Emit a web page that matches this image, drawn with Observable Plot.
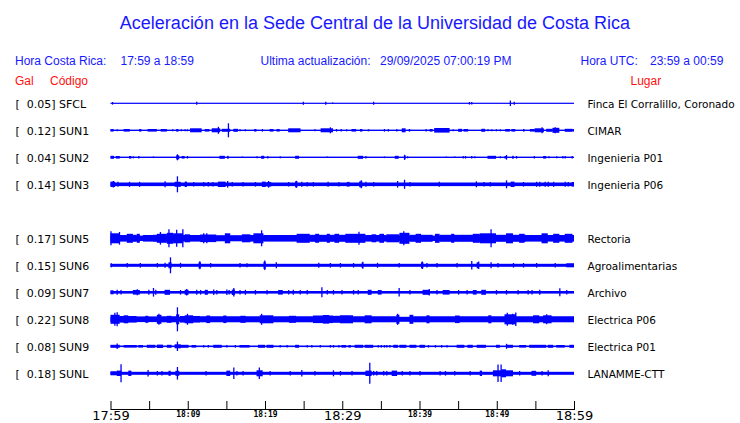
<!DOCTYPE html>
<html>
<head>
<meta charset="utf-8">
<script src="https://cdn.jsdelivr.net/npm/d3@7"></script>
<script src="https://cdn.jsdelivr.net/npm/@observablehq/plot@0.6"></script>
<style>
  body { margin: 0; background: #fff; }
  #chart svg { display: block; }
</style>
</head>
<body>
<div id="chart"></div>
<script>
// ---------------- DATA ----------------
const title = "Aceleración en la Sede Central de la Universidad de Costa Rica";
const horaCR = ["Hora Costa Rica:", "17:59 a 18:59"];
const actualizacion = ["Ultima actualización:", "29/09/2025 07:00:19 PM"];
const horaUTC = ["Hora UTC:", "23:59 a 00:59"];
const colHeads = ["Gal", "Código", "Lugar"];

const codes  = ["SFCL", "SUN1", "SUN2", "SUN3", "SUN4", "SUN5", "SUN6", "SUN7", "SUN8", "SUN9", "SUNL"];
const gal    = [0.05, 0.12, 0.04, 0.14, null, 0.17, 0.15, 0.09, 0.22, 0.08, 0.18];
const places = ["Finca El Corralillo, Coronado", "CIMAR", "Ingenieria P01", "Ingenieria P06", null,
                "Rectoria", "Agroalimentarias", "Archivo", "Electrica P06", "Electrica P01", "LANAMME-CTT"];
// background (noise) half-amplitude of each trace, trace units
const noise  = [0.6, 0.7, 0.7, 1.8, null, 2.7, 1.5, 1.3, 2.5, 0.8, 1.5];

// minutes after 17:59 ; bursts [start, end, halfAmp], spikes [time, halfAmp]
const events = {
  SFCL: [[0.2,1.3],[11.1,1.5],[24.9,1.5],[27.8,1.5],[28.7,0.8],[34.0,1.5],[46.4,1.3],[46.7,1.3],[51.7,2.8],[52.2,1.5]],
  SUN1: [[0,0.4,1.3],[0.8,1],[1.7,2.5,1.3],[3.7,4.0,1.3],[4.8,6.0,1.3],[6.5,7.3,1.3],[8.0,1],[8.5,8.8,1.3],[9.1,1],[9.6,1],[9.9,1],[10.3,11.8,2],[12.2,12.8,1.3],[13.1,14.2,2],[13.9,3.5],[14.4,15.5,1.5],[15.2,7],[15.9,16.5,1.5],[16.7,1],[17.4,1],[18.6,18.9,1.3],[19.6,1.3],[20.6,21.1,1.3],[21.5,21.9,1.3],[23.0,24.6,2],[26.4,1],[27.2,28.8,2],[28.4,3],[29.2,1.3],[29.8,1.3],[30.5,1],[31.2,31.8,1.3],[32.3,32.6,1.3],[33.3,33.5,1],[35.4,1.3],[35.9,1.3],[37.0,1.2],[37.7,38.2,2],[38.6,38.8,1.3],[40.8,1.3],[41.3,41.7,1.3],[41.9,43.9,2.3],[44.3,1],[45.0,45.5,1.5],[45.7,46.3,1.3],[48.0,48.5,1.5],[48.8,1],[49.3,1],[49.9,1],[50.4,1],[51.1,51.7,1.3],[51.9,52.4,1.3],[53.4,53.6,1.3],[54.3,54.9,1.3],[54.9,56.1,2],[55.8,3],[56.4,57.2,1.5],[57.2,58.1,2.5],[57.5,3],[58.8,59.8,1.5],[59.8,60,1.3]],
  SUN2: [[0,0.45,1.5],[0.7,1.2,1.3],[2.4,2.7,1.3],[2.9,1],[3.6,1.3],[5.5,0.8],[8.5,8.9,2],[8.6,3],[9.2,9.6,1.3],[9.9,1.3],[14.1,14.8,1.5],[15.1,15.3,1.5],[17.0,0.8],[18.9,1],[19.5,19.9,1.5],[20.3,1.3],[21.9,1],[23.9,24.4,1.5],[28.0,0.8],[32.0,32.7,1.5],[33.0,1.3],[35.4,0.8],[36.8,37.3,1.5],[38.0,38.2,2],[38.0,2.5],[38.4,1],[43.4,0.8],[44.5,0.8],[45.6,1.3],[45.9,1.3],[46.7,1.3],[47.1,1],[48.8,49.9,1.5],[50.4,1],[51.0,51.3,1.3],[51.2,2.3],[52.0,52.2,1.5],[52.5,1.3],[54.8,1.3],[56.0,56.4,1.3],[56.7,1],[57.7,1],[58.5,1.3],[58.8,1.3],[59.7,1.3]],
  SUN3: [[0,0.6,2.7],[0.3,3.3],[0.9,2.5],[2.4,2.5],[3.7,2.5],[7.0,3],[8.3,9.1,2.5],[8.6,8],[9.6,9.9,2.7],[10.7,2.3],[12.0,2.3],[12.6,2.3],[13.2,2.3],[13.9,14.9,2.7],[15.1,3.3],[15.7,2.3],[17.1,2.3],[18.7,2.3],[19.6,20.1,2.7],[20.2,20.8,2.3],[20.4,3.3],[23.0,2.3],[23.9,24.2,3],[24.0,3.5],[24.7,2.5],[25.4,2.3],[26.2,2.3],[28.1,2.5],[29.5,2.3],[30.6,2.3],[30.8,2.5],[32.2,32.6,3],[32.4,4],[33.0,2.5],[34.0,2.3],[37.1,3.3],[38.0,4.5],[38.7,2.3],[42.5,2.5],[47.3,3],[48.3,2.3],[49.1,2.3],[51.2,4],[51.8,52.3,2.7],[53.4,2.3],[55.1,2.5],[55.5,2.5],[56.2,2.5],[56.6,2.5],[57.3,2.5],[58.8,2.5],[59.2,2.3],[59.7,60,2.3]],
  SUN5: [[0,1.2,5],[0,7],[1.1,6.3],[1.2,2.1,3.3],[2.1,2.9,4.5],[2.9,3.4,3.5],[3.4,3.8,4.5],[4.2,5.5,3.3],[5.5,6.4,3.5],[6.0,7.3,4.5],[6.4,6.3],[7.3,8.1,5.5],[7.5,9],[8.5,8.5],[9.3,9],[8.1,9.4,5],[9.4,11.6,3.3],[9.6,10.3,4],[11.6,13.7,3.8],[12.0,5],[12.4,5],[13.7,14.8,3],[14.8,15.5,5],[15.5,17.0,3],[17.0,18.1,4],[17.8,19.3,3.3],[18.5,19.8,5],[19.5,8],[19.8,24.5,3.3],[24.1,25.8,4.5],[25.8,31,3.5],[26.5,27.0,4.5],[28.0,28.4,4.5],[29.0,29.6,4.5],[30.4,31.0,4.5],[31.0,33.0,4.5],[32.1,6.5],[33.0,35.7,3.3],[33.8,34.4,4],[34.8,35.4,4.5],[35.7,37.4,4],[37.4,38.7,5.5],[37.9,7],[38.7,41.7,3.5],[39.5,40.2,4.5],[42.0,42.6,4.5],[42.6,47.8,3.5],[44.1,44.5,4.5],[46.9,47.8,4.5],[47.8,49.9,5],[49.2,9],[49.9,53.8,3.5],[51.2,52.1,5],[52.9,53.6,4.5],[53.8,60,3.3],[55.8,56.6,5],[57.3,58.1,4.5],[58.8,59.8,4.5]],
  SUN6: [[0,0.2,2],[2.1,2.3],[3.8,2.3],[6.0,2.3],[7.0,2.5],[7.5,7.9,3],[7.7,8],[9.0,2.5],[11.4,11.7,3],[11.5,4],[12.9,2.3],[16.7,2.3],[17.6,2],[19.8,20.1,3.5],[19.9,4.7],[21.4,3],[26.9,2.5],[28.4,2.3],[29.7,2.3],[31.4,2.3],[32.5,32.7,2.7],[32.6,3.5],[34.5,2.5],[37.3,2.3],[40.2,40.5,3],[40.3,3.7],[40.9,2.3],[42.2,2.3],[44.8,2.3],[46.7,4.3],[47.4,47.7,3],[47.6,3.7],[49.2,3],[50.1,2.3],[52.1,2.3],[53.4,2.3],[55.1,2.3],[57.5,2.3],[59.0,60,2]],
  SUN7: [[0,0.4,2],[0.8,2.5],[1.3,2.3],[2.9,3.8,2.3],[3.4,3],[4.9,2.5],[5.5,4.3],[5.8,2.5],[7.0,7.7,2.5],[9.0,2.3],[9.6,10.1,2.5],[9.8,3.3],[11.1,2.5],[11.6,2.3],[12.2,12.6,2.5],[13.3,2.7],[13.7,2.3],[15.0,2.7],[15.3,2.3],[15.7,16.1,2.7],[15.9,4.3],[16.7,2.3],[17.4,2.5],[18.7,2.3],[20.2,2.3],[21.7,22.3,2.3],[23.0,2.3],[23.6,2.5],[24.5,2.3],[25.4,2.3],[27.3,5],[28.0,2.3],[28.8,2.3],[29.9,2.3],[31.4,2.3],[32.0,2.3],[33.3,33.8,2.5],[34.6,35.1,2.3],[37.3,4.3],[38.7,2.3],[40.4,41.3,2.5],[41.2,3.3],[42.2,2.3],[43.0,43.9,2.3],[45.0,2.3],[46.1,2.3],[46.9,47.4,2.3],[48.0,48.6,2.5],[49.9,2.3],[51.2,2.3],[52.7,2.3],[54.0,2.3],[54.5,2.3],[55.5,2.5],[58.1,4],[59.0,2.3]],
  SUN8: [[0,1.2,4.5],[0.5,6.5],[0.8,7],[1.2,3.4,3.3],[1.7,2.3,4],[3.4,6.0,2.8],[4.5,4.9,3.5],[6.0,6.6,4.5],[6.2,5.5],[6.6,8.6,3],[7.3,7.9,3.5],[8.6,12],[8.5,8.9,5],[9.0,11.6,3.3],[9.6,10.7,4],[9.9,5.5],[11.6,19.3,3],[12.4,12.9,3.8],[14.6,15.0,3.8],[16.8,17.5,3.5],[19.3,21.1,4],[19.5,5.5],[21.1,26.2,3],[23.1,24.0,3.5],[26.2,28.8,3.8],[27.5,28.3,4.3],[28.8,31.0,3.5],[29.7,31.4,4],[31.4,37.0,3],[32.9,33.8,4],[37.0,37.4,4.5],[37.1,5.5],[38.7,39.2,4.5],[39.2,51.2,3],[40.9,41.3,4],[44.6,45.2,3.8],[48.9,49.3,4],[51.0,52.5,5],[51.3,6.5],[52.0,5.5],[52.4,6.7],[52.5,60,3],[54.7,55.5,4],[56.0,57.1,4],[56.4,5]],
  SUN9: [[0,1.2,1.5],[0.8,2.8],[1.7,3.4,1.3],[3.6,4.2,1.3],[4.7,5.8,1.5],[6.0,6.8,1.7],[7.3,7.9,1.5],[8.3,9.1,2],[8.6,4.7],[9.0,10.1,1.5],[10.5,11.1,1.3],[12.0,1.3],[12.6,1.3],[13.3,14.4,1.5],[15.0,1.3],[16.1,1.3],[16.7,18.0,1.3],[19.1,20.0,1.5],[20.2,21.1,1.5],[21.9,1.3],[22.8,1.3],[23.9,24.4,1.5],[25.4,1.3],[26.0,1.3],[27.1,1.3],[28.4,1.3],[28.8,1.3],[29.5,1.3],[29.9,30.5,1.3],[30.8,31.1,1.3],[31.6,32.7,1.5],[32.9,34.0,1.5],[34.6,1.3],[35.0,1.3],[35.4,1.3],[35.7,1.3],[36.1,1.3],[36.6,37.2,1.5],[37.4,38.3,1.5],[38.7,39.6,1.5],[40.0,40.7,1.5],[41.1,1.3],[42.0,1.3],[42.8,1.3],[43.5,1.3],[44.8,45.8,1.5],[46.2,46.9,1.5],[47.4,48.6,1.5],[49.9,50.4,1.5],[51.2,2.5],[51.2,52.1,1.5],[52.9,53.8,1.3],[54.2,56.4,1.5],[56.6,57.3,1.5],[57.7,58.8,1.3],[59.4,60,1.5]],
  SUNL: [[0,0.8,2],[0.8,1.4,2.7],[1.3,9],[2.3,2.7,2.7],[4.8,3.3],[6.0,2.3],[6.6,2.3],[7.5,7.8,2.5],[8.4,8.9,2.5],[8.6,6.3],[12.3,2.3],[15.0,15.5,2.7],[15.9,5.7],[16.3,2.3],[17.1,2.3],[18.9,19.7,3],[19.2,5.7],[20.6,2.3],[23.2,2.3],[24.7,3.3],[26.4,2.3],[28.8,3],[29.7,2.3],[31.2,2.3],[33.0,33.8,2.7],[33.5,10.5],[34.0,2.3],[34.4,2.3],[35.3,2.3],[35.7,2.3],[36.4,37.1,2.7],[37.7,2.3],[38.7,2.3],[40.0,2.3],[42.6,2.3],[43.3,2.3],[44.5,2.3],[46.5,2.3],[47.8,48.1,2.7],[49.5,52.1,3],[50.1,8.7],[50.5,8.7],[50.6,51.2,4],[52.9,2.3],[54.5,55.1,2.5],[55.8,2.3],[56.6,3]]
};

const tickMarks = [0, 5, 10, 15, 20, 25, 30, 35, 40, 45, 50, 55, 60];
const labelTimes = [0, 10, 20, 30, 40, 50, 60];
const labelText  = ["17:59", "18:09", "18:19", "18:29", "18:39", "18:49", "18:59"];
const labelMajor = [true, false, false, true, false, false, true];

// ---------------- TABLES ----------------
const G = 27; // trace units per row
const rows = codes.map((c, i) => ({code: c, row: i, gal: gal[i], place: places[i], base: noise[i]}))
                  .filter(d => d.gal != null);
const bursts = [], spikes = [];
for (const r of rows) {
  for (const e of events[r.code]) {
    if (e.length === 3) bursts.push({row: r.row, t1: e[0], t2: e[1], a: e[2]});
    else spikes.push({row: r.row, t: e[0], a: e[1]});
  }
}
const labels = labelTimes.map((t, i) => ({t, text: labelText[i], major: labelMajor[i]}));

const BLUE = "#0000ff";
const chart = Plot.plot({
  width: 740,
  height: 423,
  marginLeft: 110.5,
  marginRight: 166,
  marginTop: 0,
  marginBottom: 14,
  x: {domain: [0, 60], axis: null},
  y: {domain: [0, 10], range: [103.3, 373.3], axis: null},
  style: {background: "white", overflow: "visible", fontFamily: "DejaVu Sans"},
  marks: [
    Plot.rect(rows, {x1: () => 0, x2: () => 60, y1: d => d.row - d.base / G, y2: d => d.row + d.base / G, fill: BLUE}),
    Plot.rect(bursts, {x1: "t1", x2: "t2", y1: d => d.row - d.a / G, y2: d => d.row + d.a / G, fill: BLUE}),
    Plot.ruleX(spikes, {x: "t", y1: d => d.row - d.a / G, y2: d => d.row + d.a / G, stroke: BLUE, strokeWidth: 1.3}),
    Plot.text(rows, {
      y: "row", frameAnchor: "left", dx: -95.5, dy: 4, lineAnchor: "bottom", textAnchor: "start",
      text: d => `[\u00a0\u00a0${d.gal.toFixed(2)}] ${d.code}`,
      fontFamily: "DejaVu Sans", fontSize: 11, fill: "black"
    }),
    Plot.text(rows, {
      y: "row", frameAnchor: "right", dx: 13, dy: 4, lineAnchor: "bottom", textAnchor: "start",
      text: "place", fontFamily: "DejaVu Sans", fontSize: 10.5, fill: "black"
    }),
    Plot.frame({anchor: "bottom", stroke: "black"}),
    Plot.ruleX(tickMarks, {x: d => d, insetTop: 401, stroke: "black"}),
    Plot.text(labels.filter(d => d.major), {
      x: "t", text: "text", frameAnchor: "bottom", dy: 10.5, lineAnchor: "bottom",
      fontFamily: "DejaVu Sans", fontSize: 13, fill: "black"
    }),
    Plot.text(labels.filter(d => !d.major), {
      x: "t", text: "text", frameAnchor: "bottom", dy: 7.7, lineAnchor: "bottom",
      fontFamily: "DejaVu Sans Mono", fontSize: 8, fontWeight: "bold", fill: "black"
    })
  ]
});

// header texts (layout only)
const svg = d3.select(chart);
const TXT_BLUE = "#1818ff", TXT_RED = "#ff1010";
function head(text, x, y, size, color, anchor = "start") {
  svg.append("text").attr("x", x).attr("y", y)
    .attr("font-family", "'Liberation Sans', Arial, sans-serif")
    .attr("font-size", size).attr("fill", color).attr("text-anchor", anchor)
    .text(text);
}
head(title, 375, 29, 18, TXT_BLUE, "middle");
head(horaCR[0], 15, 65, 12, TXT_BLUE);
head(horaCR[1], 120.5, 65, 12, TXT_BLUE);
head(actualizacion[0], 260.5, 65, 12, TXT_BLUE);
head(actualizacion[1], 380, 65, 12, TXT_BLUE);
head(horaUTC[0], 580.5, 65, 12, TXT_BLUE);
head(horaUTC[1], 650, 65, 12, TXT_BLUE);
head(colHeads[0], 15, 85, 12, TXT_RED);
head(colHeads[1], 50, 85, 12, TXT_RED);
head(colHeads[2], 630.5, 85, 12, TXT_RED);

document.getElementById("chart").append(chart);
</script>
</body>
</html>
